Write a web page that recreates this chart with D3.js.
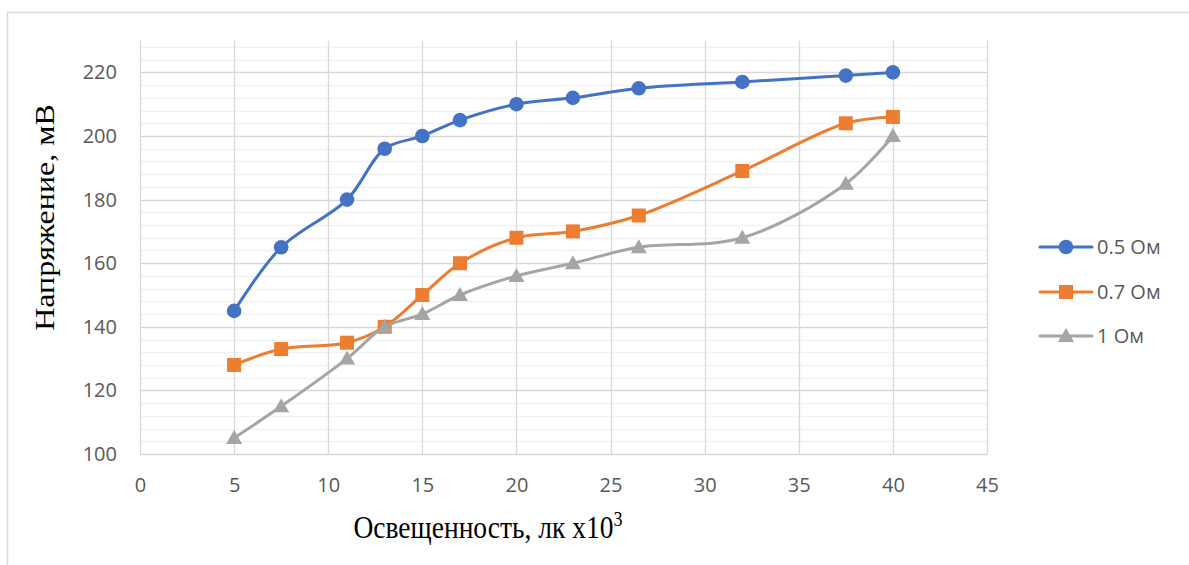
<!DOCTYPE html>
<html>
<head>
<meta charset="utf-8">
<script src="https://cdn.jsdelivr.net/npm/d3@7"></script>
<style>
  html, body { margin: 0; padding: 0; background: #fff; }
  svg { display: block; }
</style>
</head>
<body>
<svg id="chart" width="1189" height="565"></svg>
<script>
// Illuminance, lx ×10³
const illuminance = [5, 7.5, 11, 13, 15, 17, 20, 23, 26.5, 32, 37.5, 40];
// Voltage, mV, for each load resistance
const voltage05 = [145, 165, 180, 196, 200, 205, 210, 212, 215, 217, 219, 220];
const voltage07 = [128, 133, 135, 140, 150, 160, 168, 170, 175, 189, 204, 206];
const voltage10 = [105, 115, 130, 140, 144, 150, 156, 160, 165, 168, 185, 200];
const seriesNames = ["0.5 Ом", "0.7 Ом", "1 Ом"];
const xTicks = [0, 5, 10, 15, 20, 25, 30, 35, 40, 45];
const yTicks = [100, 120, 140, 160, 180, 200, 220];

const series = [
  { name: seriesNames[0], values: voltage05, color: "#4472C4", marker: "circle" },
  { name: seriesNames[1], values: voltage07, color: "#ED7D31", marker: "square" },
  { name: seriesNames[2], values: voltage10, color: "#A5A5A5", marker: "triangle" }
];

const svg = d3.select("#chart");
const tickFont = "'Open Sans', 'Liberation Sans', sans-serif";
const titleFont = "'Liberation Serif', 'Times New Roman', serif";

// chart frame
svg.append("rect")
  .attr("x", 7.5).attr("y", 12.5)
  .attr("width", 1200).attr("height", 600)
  .attr("fill", "#fff").attr("stroke", "#d9d9d9").attr("stroke-width", 1.5);

const x = d3.scaleLinear().domain([0, 45]).range([140, 987]);
const y = d3.scaleLinear().domain([100, 230]).range([454, 40.6]);

// minor horizontal gridlines
const minor = d3.range(100, 230.1, 4).filter(v => v % 20 !== 0);
svg.append("g").selectAll("line").data(minor).join("line")
  .attr("x1", x(0)).attr("x2", x(45))
  .attr("y1", d => Math.round(y(d)) + 0.5).attr("y2", d => Math.round(y(d)) + 0.5)
  .attr("stroke", "#f2f2f2").attr("stroke-width", 1.3);

// major horizontal gridlines
svg.append("g").selectAll("line").data(yTicks.filter(v => v > 100)).join("line")
  .attr("x1", x(0)).attr("x2", x(45))
  .attr("y1", d => Math.round(y(d)) + 0.5).attr("y2", d => Math.round(y(d)) + 0.5)
  .attr("stroke", "#d9d9d9").attr("stroke-width", 1.3);

// vertical gridlines
svg.append("g").selectAll("line").data(xTicks).join("line")
  .attr("x1", d => Math.round(x(d)) + 0.5).attr("x2", d => Math.round(x(d)) + 0.5)
  .attr("y1", y(230)).attr("y2", y(100))
  .attr("stroke", "#d9d9d9").attr("stroke-width", 1.3);

// bottom axis line
svg.append("line")
  .attr("x1", x(0)).attr("x2", x(45))
  .attr("y1", Math.round(y(100)) + 0.5).attr("y2", Math.round(y(100)) + 0.5)
  .attr("stroke", "#d9d9d9").attr("stroke-width", 1.5);

// tick labels via axes
const xAxis = svg.append("g")
  .attr("transform", `translate(0,${y(100)})`)
  .call(d3.axisBottom(x).tickValues(xTicks).tickSize(0).tickPadding(24));
const yAxis = svg.append("g")
  .attr("transform", `translate(${x(0)},0)`)
  .call(d3.axisLeft(y).tickValues(yTicks).tickSize(0).tickPadding(23));
[xAxis, yAxis].forEach(g => {
  g.select(".domain").remove();
  g.selectAll("text")
    .attr("fill", "#595959")
    .style("font-family", tickFont)
    .style("font-size", "20px");
});
xAxis.selectAll("text").attr("dy", "0.71em");

// axis titles (slightly condensed serif)
svg.append("text")
  .attr("transform", "translate(488,538) scale(0.86,1)")
  .attr("text-anchor", "middle")
  .style("font-family", titleFont)
  .style("font-size", "32px")
  .attr("fill", "#000")
  .html("Освещенность, лк х10<tspan dy='-12' font-size='21px'>3</tspan>");

svg.append("text")
  .attr("transform", "translate(53.5,217.5) rotate(-90) scale(1,0.86)")
  .attr("text-anchor", "middle")
  .style("font-family", titleFont)
  .style("font-size", "32px")
  .attr("fill", "#000")
  .text("Напряжение, мВ");

// series lines
const line = d3.line()
  .x(d => x(d[0])).y(d => y(d[1]))
  .curve(d3.curveCatmullRom.alpha(0.5));

function drawMarker(g, type, color, cx, cy) {
  if (type === "circle") {
    g.append("circle").attr("cx", cx).attr("cy", cy).attr("r", 7.3).attr("fill", color);
  } else if (type === "square") {
    g.append("rect").attr("x", cx - 7).attr("y", cy - 7)
      .attr("width", 14).attr("height", 14).attr("fill", color);
  } else {
    g.append("path")
      .attr("d", `M${cx},${cy - 8}L${cx + 8},${cy + 6}L${cx - 8},${cy + 6}Z`)
      .attr("fill", color);
  }
}

series.forEach(s => {
  const pts = illuminance.map((v, i) => [v, s.values[i]]);
  const g = svg.append("g");
  g.append("path").datum(pts)
    .attr("d", line)
    .attr("fill", "none")
    .attr("stroke", s.color)
    .attr("stroke-width", 3)
    .attr("stroke-linecap", "round");
  pts.forEach(p => drawMarker(g, s.marker, s.color, x(p[0]), y(p[1])));
});

// legend
const legendY = [247, 292, 336];
series.forEach((s, i) => {
  const g = svg.append("g");
  const ly = legendY[i];
  g.append("line")
    .attr("x1", 1040).attr("x2", 1092).attr("y1", ly).attr("y2", ly)
    .attr("stroke", s.color).attr("stroke-width", 3).attr("stroke-linecap", "round");
  drawMarker(g, s.marker, s.color, 1066, ly);
  g.append("text")
    .attr("x", 1097).attr("y", ly).attr("dy", "0.36em")
    .attr("fill", "#595959")
    .style("font-family", tickFont)
    .style("font-size", "20px")
    .text(s.name);
});
</script>
</body>
</html>
